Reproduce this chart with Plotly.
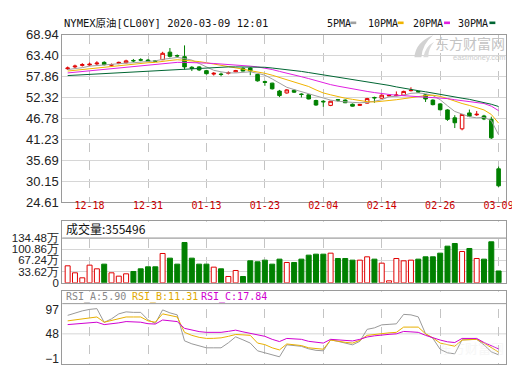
import plotly.graph_objects as go

# ---------------- data ----------------
dates = ["2019-12-13", "2019-12-16", "2019-12-17", "2019-12-18", "2019-12-19", "2019-12-20",
         "2019-12-23", "2019-12-24", "2019-12-26", "2019-12-27", "2019-12-30", "2019-12-31",
         "2020-01-02", "2020-01-03", "2020-01-06", "2020-01-07", "2020-01-08", "2020-01-09",
         "2020-01-10", "2020-01-13", "2020-01-14", "2020-01-15", "2020-01-16", "2020-01-17",
         "2020-01-20", "2020-01-21", "2020-01-22", "2020-01-23", "2020-01-24", "2020-01-27",
         "2020-01-28", "2020-01-29", "2020-01-30", "2020-01-31", "2020-02-03", "2020-02-04",
         "2020-02-05", "2020-02-06", "2020-02-07", "2020-02-10", "2020-02-11", "2020-02-12",
         "2020-02-13", "2020-02-14", "2020-02-17", "2020-02-18", "2020-02-19", "2020-02-20",
         "2020-02-21", "2020-02-24", "2020-02-25", "2020-02-26", "2020-02-27", "2020-02-28",
         "2020-03-02", "2020-03-03", "2020-03-04", "2020-03-05", "2020-03-06", "2020-03-09"]

tick_dates = ["2019-12-18", "2019-12-31", "2020-01-13", "2020-01-23",
              "2020-02-04", "2020-02-14", "2020-02-26", "2020-03-09"]
tick_labels = ["12-18", "12-31", "01-13", "01-23", "02-04", "02-14", "02-26", "03-09"]

opens = [59.9, 60.4, 60.8, 60.9, 61.2, 61.6, 60.85, 61.3, 61.5, 62.1,
         62.3, 62.2, 62.0, 62.3, 64.3, 63.4, 63.1, 60.3, 60.4, 59.4,
         58.5, 58.5, 58.7, 59.1, 60.0, 60.1, 58.4, 56.5, 56.1, 54.0,
         53.5, 54.2, 53.2, 53.0, 51.5, 51.3, 50.2, 51.7, 51.6, 50.5,
         50.2, 50.8, 52.3, 52.1, 52.7, 52.8, 52.9, 54.1, 53.9, 53.0,
         51.6, 50.6, 49.0, 46.9, 44.0, 48.2, 47.7, 47.4, 46.5, 33.4]
highs = [60.5, 61.0, 61.4, 61.6, 61.9, 61.9, 61.3, 61.8, 62.3, 62.5,
         62.7, 62.5, 62.2, 64.4, 65.4, 63.7, 66.1, 60.6, 60.6, 59.6,
         59.0, 58.9, 59.2, 59.6, 60.3, 60.3, 58.6, 56.8, 56.2, 54.3,
         54.5, 54.5, 53.4, 53.2, 51.7, 51.6, 51.4, 51.9, 51.8, 50.7,
         50.6, 52.2, 52.5, 53.1, 53.0, 53.9, 54.1, 55.0, 54.1, 53.2,
         51.8, 50.8, 49.2, 47.6, 47.9, 49.1, 48.7, 47.7, 47.2, 34.0]
lows = [59.6, 60.1, 60.5, 60.6, 60.9, 60.8, 60.6, 61.1, 61.3, 61.6,
        61.9, 61.7, 61.7, 62.2, 62.9, 62.8, 59.7, 59.3, 59.3, 58.4,
        58.1, 57.9, 58.4, 59.0, 59.2, 58.2, 56.5, 55.4, 54.4, 52.4,
        53.3, 53.5, 52.3, 51.8, 50.1, 49.8, 50.0, 51.2, 50.8, 49.9,
        50.1, 50.7, 50.9, 52.0, 52.6, 52.6, 52.8, 53.9, 53.5, 51.1,
        50.2, 48.9, 46.1, 44.2, 43.6, 47.1, 47.4, 46.3, 41.3, 28.6]
closes = [60.1, 60.6, 61.0, 61.1, 61.4, 61.0, 60.95, 61.6, 62.0, 62.0,
          62.2, 61.9, 61.9, 64.0, 63.2, 63.3, 60.4, 60.0, 59.6, 58.6,
          58.7, 58.4, 58.9, 59.4, 59.3, 59.3, 56.7, 56.3, 54.6, 52.8,
          54.3, 53.7, 53.1, 51.9, 50.3, 51.15, 51.3, 51.6, 50.9, 50.0,
          50.45, 52.0, 52.2, 52.9, 52.85, 52.95, 53.9, 54.2, 53.75, 51.9,
          50.4, 49.05, 46.5, 45.6, 47.8, 47.3, 47.85, 46.6, 41.6, 28.9]

ma5 = [59.7, 59.9, 60.2, 60.6, 60.8, 61.0, 61.1, 61.2, 61.4, 61.5,
       61.7, 61.9, 62.0, 62.4, 62.6, 62.9, 62.6, 62.2, 61.3, 60.4,
       59.5, 59.1, 58.8, 58.8, 58.9, 59.1, 58.7, 58.2, 57.2, 56.0,
       55.0, 54.4, 53.8, 53.2, 52.6, 52.0, 51.6, 51.3, 51.1, 51.0,
       50.9, 51.0, 51.3, 51.7, 52.5, 52.6, 52.9, 53.4, 53.5, 53.3,
       52.8, 51.7, 50.1, 48.6, 47.9, 47.2, 46.9, 47.0, 46.2, 42.4]
ma10 = [59.3, 59.5, 59.7, 59.9, 60.1, 60.3, 60.5, 60.7, 60.9, 61.2,
        61.4, 61.5, 61.6, 61.9, 62.1, 62.3, 62.2, 62.0, 61.8, 61.5,
        61.2, 60.8, 60.5, 60.2, 59.8, 59.4, 59.1, 58.7, 58.2, 57.6,
        57.1, 56.6, 56.0, 55.2, 54.3, 53.5, 53.0, 52.5, 52.1, 51.8,
        51.4, 51.2, 51.1, 51.2, 51.5, 51.7, 52.0, 52.3, 52.6, 52.8,
        52.9, 52.6, 52.0, 51.3, 50.7, 50.2, 49.7, 49.0, 47.8, 45.5]
ma20 = [58.8, 59.0, 59.2, 59.4, 59.6, 59.8, 60.0, 60.2, 60.4, 60.6,
        60.8, 61.0, 61.1, 61.3, 61.5, 61.6, 61.6, 61.6, 61.5, 61.4,
        61.3, 61.2, 61.1, 61.0, 60.8, 60.6, 60.4, 60.1, 59.7, 59.2,
        58.8, 58.3, 57.8, 57.3, 56.7, 56.2, 55.7, 55.3, 54.9, 54.5,
        54.2, 53.9, 53.6, 53.3, 53.1, 52.9, 52.8, 52.7, 52.6, 52.5,
        52.4, 52.2, 52.0, 51.7, 51.5, 51.3, 51.1, 50.7, 50.0, 48.8]
ma30 = [58.1, 58.2, 58.3, 58.4, 58.5, 58.6, 58.7, 58.8, 58.9, 59.0,
        59.1, 59.2, 59.3, 59.5, 59.6, 59.8, 59.9, 60.0, 60.1, 60.2,
        60.3, 60.3, 60.4, 60.4, 60.4, 60.4, 60.3, 60.3, 60.1, 59.9,
        59.7, 59.5, 59.2, 58.9, 58.6, 58.3, 58.0, 57.7, 57.4, 57.1,
        56.8, 56.5, 56.2, 55.9, 55.5, 55.1, 54.7, 54.4, 54.1, 53.8,
        53.5, 53.2, 52.9, 52.5, 52.1, 51.8, 51.4, 51.0, 50.5, 49.9]

volumes = [510000, 300000, 150000, 530000, 420000, 560000, 300000, 200000, 270000, 340000,
           420000, 480000, 480000, 880000, 740000, 560000, 1210000, 740000, 560000, 560000,
           470000, 420000, 190000, 370000, 190000, 660000, 630000, 680000, 560000, 710000,
           610000, 610000, 710000, 830000, 860000, 860000, 890000, 730000, 730000, 680000,
           680000, 780000, 710000, 590000, 60000, 730000, 660000, 680000, 710000, 780000,
           780000, 890000, 1100000, 1180000, 940000, 1030000, 730000, 710000, 1230000, 355496]

rsi_a = [85, 90, 94, 97, 98.5, 71, 78, 88, 92, 91,
         91, 76, 69, 96, 90, 86, 34, 28, 24, 20,
         20, 20, 30, 42, 36, 29.5, 14, 10, 5, 2,
         26, 25, 23, 18, 15, 14, 36, 33, 30, 26,
         33, 57, 60, 66, 67, 68, 87, 86, 82, 48,
         39, 17, 10, 8, 36, 36, 37, 26, 12, 5.90]
rsi_b = [74, 76, 77.5, 78.7, 81.8, 71.3, 75, 79, 81.8, 81.8,
         81.8, 74, 71.3, 88, 85, 81.8, 51, 45, 41, 38.8,
         39, 40, 43, 46.7, 46, 45, 29.5, 26.4, 20, 15.8,
         27.7, 26, 24.5, 20, 18, 17.2, 35.6, 33, 31, 29.5,
         35, 45, 47, 49, 50, 51, 61.5, 61.5, 61.5, 48,
         40, 29.5, 26, 23.2, 35.6, 36, 37, 29.5, 20, 11.31]
rsi_c = [66.5, 67.5, 68.5, 69.4, 71.3, 66.5, 68, 70, 72.6, 72,
         71.3, 68.3, 67.6, 75.7, 74, 72.6, 59, 55, 52.5, 51,
         51, 51, 53, 55.4, 52, 49, 45, 43, 37, 32.5,
         38.8, 38, 37, 33, 31, 29.5, 37, 36, 35, 33.8,
         37, 41.7, 44, 46.2, 47, 48, 52.8, 52, 51, 45,
         40, 35.6, 32, 30.6, 38.8, 38.8, 38.8, 30.6, 25, 17.84]

price_ticks = [24.61, 30.15, 35.69, 41.23, 46.78, 52.32, 57.86, 63.40, 68.94]
price_tick_text = ["24.61", "30.15", "35.69", "41.23", "46.78", "52.32", "57.86", "63.40", "68.94"]
vol_ticks = [0, 336200, 672400, 1008600, 1344800]
vol_tick_text = ["0", "33.62万", "67.24万", "100.86万", "134.48万"]
rsi_ticks = [-1, 48, 97]

title_text = "NYMEX原油[CL00Y] 2020-03-09 12:01"
ma_names = ["5PMA", "10PMA", "20PMA", "30PMA"]

# ---------------- style ----------------
W, H = 520, 365
RED = "#e00000"
GREEN = "#008000"
C_MA5, C_MA10, C_MA20, C_MA30 = "#a0a0a0", "#f0b400", "#e020e0", "#006633"
FRAME = "#9a9a9a"
GRID = "#d6d6d6"
MONO = "DejaVu Sans Mono, Noto Sans CJK SC, monospace"
SANS = "Liberation Sans, Arial, sans-serif"
CJK = "Noto Sans CJK SC, sans-serif"


def py(px):
    return 1 - px / H


def P(x, y):
    return "%.5f,%.5f" % (x / W, 1 - y / H)


X0, X1 = 55 / W, 505 / W

up = [c >= o for o, c in zip(opens, closes)]

fig = go.Figure()
fig.add_trace(go.Candlestick(
    x=dates, open=opens, high=highs, low=lows, close=closes,
    increasing=dict(line=dict(color=RED, width=1), fillcolor="white"),
    decreasing=dict(line=dict(color=GREEN, width=1), fillcolor=GREEN),
    xaxis="x", yaxis="y", hoverinfo="skip"))
for vals, col in [(ma5, C_MA5), (ma10, C_MA10), (ma20, C_MA20), (ma30, C_MA30)]:
    fig.add_trace(go.Scatter(x=dates, y=vals, mode="lines", line=dict(color=col, width=1),
                             xaxis="x", yaxis="y", hoverinfo="skip"))

fig.add_trace(go.Bar(
    x=dates, y=volumes, width=0.68,
    marker=dict(color=["white" if u else GREEN for u in up],
                line=dict(color=[RED if u else GREEN for u in up], width=1)),
    xaxis="x2", yaxis="y2", hoverinfo="skip"))

for vals, col in [(rsi_a, "#999999"), (rsi_b, "#e8b000"), (rsi_c, "#d000d0")]:
    fig.add_trace(go.Scatter(x=dates, y=vals, mode="lines", line=dict(color=col, width=1),
                             xaxis="x3", yaxis="y3", hoverinfo="skip"))

xcommon = dict(type="category", categoryorder="array", categoryarray=dates,
               range=[-0.74, 60.04], tickvals=tick_dates, showgrid=True,
               gridcolor="#c4c4c4", griddash="dash", gridwidth=1,
               showline=True, mirror=True, linecolor=FRAME, linewidth=1,
               ticks="", fixedrange=True, domain=[X0, X1])

fig.update_layout(
    width=W, height=H, margin=dict(l=0, r=0, t=0, b=0),
    paper_bgcolor="white", plot_bgcolor="white", showlegend=False,
    hovermode=False,
    xaxis=dict(**xcommon, anchor="y", ticktext=tick_labels, ticklabelstandoff=-6,
               tickfont=dict(family=MONO, size=10, color="#cc0000"),
               rangeslider=dict(visible=False)),
    xaxis2=dict(**xcommon, anchor="y2", matches="x", showticklabels=False),
    xaxis3=dict(**xcommon, anchor="y3", matches="x", showticklabels=False),
    yaxis=dict(domain=[py(195), py(20.5)], range=[24.61, 68.94], anchor="x",
               tickvals=price_ticks, ticktext=price_tick_text,
               tickfont=dict(family=SANS, size=13, color="#222"),
               showgrid=True, gridcolor=GRID, zeroline=False,
               showline=True, mirror=True, linecolor=FRAME, ticks="", fixedrange=True),
    yaxis2=dict(domain=[py(279.3), py(215)], range=[0, 1850000], anchor="x2",
                tickvals=vol_ticks, ticktext=vol_tick_text,
                tickfont=dict(family=SANS, size=11.5, color="#222"),
                showgrid=True, gridcolor=GRID, zeroline=False,
                showline=True, mirror=True, linecolor=FRAME, ticks="", fixedrange=True),
    yaxis3=dict(domain=[py(364), py(288)], range=[-12.5, 133.5], anchor="x3",
                tickvals=rsi_ticks, tickfont=dict(family=SANS, size=12, color="#222"),
                showgrid=False, zeroline=False,
                showline=True, mirror=True, linecolor=FRAME, ticks="", fixedrange=True),
)

shapes = []
# blank header strips (no grid there) in volume and RSI panels
shapes.append(dict(type="rect", xref="paper", yref="paper", layer="above",
                   x0=55.5 / W, x1=504.5 / W, y0=py(232.5), y1=py(215.5),
                   fillcolor="white", line=dict(width=0)))
shapes.append(dict(type="rect", xref="paper", yref="paper", layer="above",
                   x0=55.5 / W, x1=504.5 / W, y0=py(301), y1=py(288.5),
                   fillcolor="white", line=dict(width=0)))
# header separator lines
shapes.append(dict(type="line", xref="x2 domain", yref="y2", x0=0, x1=1, layer="above",
                   y0=vol_ticks[-1], y1=vol_ticks[-1], line=dict(color=FRAME, width=1)))
shapes.append(dict(type="line", xref="x3 domain", yref="y3 domain", x0=0, x1=1, layer="above",
                   y0=(364 - 301) / 76, y1=(364 - 301) / 76, line=dict(color=FRAME, width=1)))
shapes.append(dict(type="line", xref="x3 domain", yref="y3", x0=0, x1=1, layer="below",
                   y0=rsi_ticks[1], y1=rsi_ticks[1], line=dict(color=GRID, width=1)))
# legend markers
for xm, col in [(347, C_MA5), (395, C_MA10), (442, C_MA20), (488, C_MA30)]:
    shapes.append(dict(type="rect", xref="paper", yref="paper",
                       x0=xm / W, x1=(xm + 6) / W, y0=py(9.5), y1=py(6.8),
                       fillcolor=col, line=dict(width=0)))
# watermark swoosh logo
shapes.append(dict(type="path", xref="paper", yref="paper", layer="above",
                   path="M %s Q %s %s Q %s %s Z" % (P(412, 44), P(413, 28), P(431, 21),
                                                    P(420, 30), P(419, 44)),
                   fillcolor="#d2d2d2", line=dict(width=0)))
shapes.append(dict(type="path", xref="paper", yref="paper", layer="above",
                   path="M %s Q %s %s Q %s %s Z" % (P(421, 44), P(423, 33), P(432, 28),
                                                    P(426, 35), P(426, 44)),
                   fillcolor="#dadada", line=dict(width=0)))
fig.update_layout(shapes=shapes)

ann = []
ann.append(dict(text=title_text, x=55 / W, y=py(8.5), xref="paper", yref="paper",
                xanchor="left", yanchor="middle", showarrow=False,
                font=dict(family=MONO, size=10.5, color="#111")))
for name, xl in zip(ma_names, [321, 363, 408, 454]):
    ann.append(dict(text=name, x=xl / W, y=py(8.5), xref="paper", yref="paper",
                    xanchor="left", yanchor="middle", showarrow=False,
                    font=dict(family=MONO, size=10, color="#111")))
ann.append(dict(text="成交量:" + str(volumes[-1]), x=57 / W, y=py(222.5), xref="paper", yref="paper",
                xanchor="left", yanchor="middle", showarrow=False,
                font=dict(family=CJK, size=12, color="#111")))
for txt, xl, col in [("RSI_A:%.2f" % rsi_a[-1], 57, "#888888"),
                     ("RSI_B:%.2f" % rsi_b[-1], 123.5, "#e0a800"),
                     ("RSI_C:%.2f" % rsi_c[-1], 194, "#d000d0")]:
    ann.append(dict(text=txt, x=xl / W, y=py(293.8), xref="paper", yref="paper",
                    xanchor="left", yanchor="middle", showarrow=False,
                    font=dict(family=MONO, size=10, color=col)))
# watermarks
ann.append(dict(text="东方财富网", x=506 / W, y=py(29), xref="paper", yref="paper",
                xanchor="right", yanchor="middle", showarrow=False,
                font=dict(family=CJK, size=14, color="#c4c4c4")))
ann.append(dict(text="eastmoney.com", x=506 / W, y=py(44), xref="paper", yref="paper",
                xanchor="right", yanchor="middle", showarrow=False,
                font=dict(family=SANS, size=7.5, color="#cccccc")))
ann.append(dict(text="东方财富网", x=505 / W, y=py(347), xref="paper", yref="paper",
                xanchor="right", yanchor="middle", showarrow=False, opacity=0.35,
                font=dict(family=CJK, size=13, color="#e8e8e8")))
fig.update_layout(annotations=ann)

fig.write_html("out.html")
